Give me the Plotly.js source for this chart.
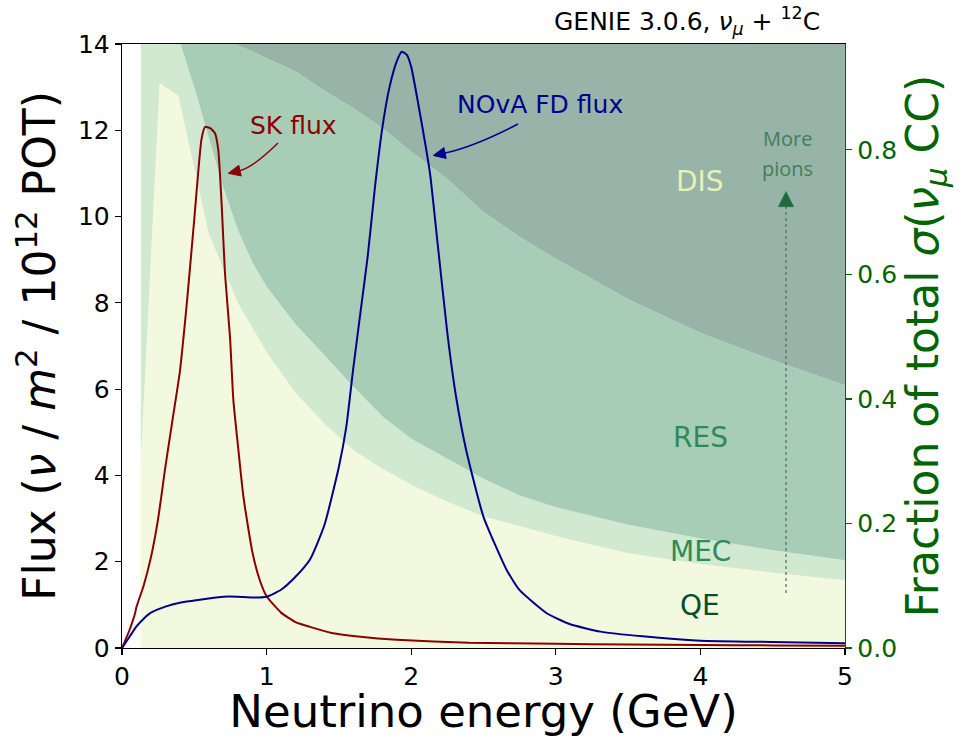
<!DOCTYPE html>
<html><head><meta charset="utf-8">
<script src="https://cdn.plot.ly/plotly-3.0.1.min.js"></script>
<style>body{margin:0;background:#fff}#chart{width:962px;height:738px}</style>
</head><body><div id="chart"></div>
<script>
// ---- data ----
const energyGrid = [0.13,0.26,0.39,0.5,0.6,0.7,0.8,0.9,1.0,1.2,1.4,1.6,1.8,2.0,2.25,2.5,2.75,3.0,3.5,4.0,4.5,5.0];
const fracQE  = [0.30,0.907,0.887,0.77,0.665,0.61,0.555,0.515,0.475,0.41,0.36,0.318,0.288,0.262,0.235,0.211,0.196,0.18,0.152,0.135,0.121,0.109];
const fracMEC = [0.70,0.093,0.093,0.13,0.155,0.13,0.117,0.105,0.105,0.11,0.11,0.102,0.084,0.074,0.069,0.061,0.049,0.046,0.046,0.041,0.036,0.032];
const fracRES = [0,0,0.02,0.10,0.175,0.245,0.296,0.338,0.367,0.406,0.425,0.447,0.463,0.461,0.449,0.428,0.415,0.399,0.362,0.33,0.305,0.281];
const fracDIS = [0,0,0,0,0.005,0.015,0.032,0.042,0.053,0.074,0.105,0.133,0.165,0.203,0.247,0.30,0.34,0.375,0.44,0.494,0.538,0.578];

const skEnergy = [0,0.05,0.09,0.1,0.15,0.2,0.25,0.3,0.35,0.4,0.45,0.5,0.55,0.575,0.61,0.643,0.666,0.69,0.712,0.747,0.77,0.8,0.84,0.9,0.95,1.0,1.1,1.2,1.3,1.45,1.65,1.9,2.4,3.0,3.5,4.0,4.5,5.0];
const skFlux   = [0,0.4,0.8,0.95,1.45,2.1,3.0,4.2,5.3,6.4,8.05,9.95,11.8,12.08,12.05,11.93,11.54,10.23,8.69,7.2,5.75,4.75,3.5,2.25,1.6,1.2,0.82,0.6,0.49,0.35,0.26,0.19,0.12,0.1,0.08,0.07,0.06,0.05];

const novaEnergy = [0,0.05,0.1,0.15,0.2,0.3,0.4,0.5,0.6,0.7,0.8,0.9,1.0,1.1,1.2,1.3,1.4,1.5,1.55,1.6,1.65,1.7,1.75,1.8,1.85,1.9,1.935,1.97,2.0,2.06,2.13,2.18,2.25,2.31,2.38,2.5,2.66,2.75,2.94,3.1,3.31,3.6,4.0,4.5,5.0];
const novaFlux   = [0,0.25,0.5,0.68,0.82,0.96,1.05,1.1,1.15,1.19,1.19,1.17,1.19,1.35,1.65,2.05,2.85,4.2,5.1,6.5,7.8,9.1,10.7,12.05,13.0,13.6,13.82,13.75,13.47,12.4,11.0,9.46,7.3,5.83,4.59,3.04,1.81,1.34,0.80,0.55,0.38,0.27,0.17,0.14,0.11];

const xTicks = [0,1,2,3,4,5];
const fluxTicks = [0,2,4,6,8,10,12,14];
const fracTicks = [0,0.2,0.4,0.6,0.8];

// ---- layout geometry helpers (pixel -> data, for decorations) ----
const W=962,H=738, L=122, R=117, T=44, B=90;
const X0=0, X1=5, F1=14, FR1=0.97;
const pw=W-L-R, ph=H-T-B;
const px2x = p => X0 + (p-L)/pw*(X1-X0);
const py2f = p => (H-B-p)/ph*F1;

const DJ = 'DejaVu Sans, Liberation Sans, sans-serif';
const green = '#006400';

const areaCols = {QE:'#f3f9de', MEC:'#d0e9d0', RES:'#a8cdb6', DIS:'#98b4a8'};
function area(name, vals){
  return {x:energyGrid, y:vals, name:name, type:'scatter', mode:'none', stackgroup:'frac',
          fillcolor:areaCols[name], line:{width:0}, yaxis:'y', hoverinfo:'skip'};
}
const traces = [
  area('QE',fracQE), area('MEC',fracMEC), area('RES',fracRES), area('DIS',fracDIS),
  {x:skEnergy, y:skFlux, type:'scatter', mode:'lines', name:'SK flux', yaxis:'y2',
   line:{color:'#8b0000', width:2, shape:'spline', smoothing:0.5}},
  {x:novaEnergy, y:novaFlux, type:'scatter', mode:'lines', name:'NOvA FD flux', yaxis:'y2',
   line:{color:'#00008b', width:2, shape:'spline', smoothing:0.5}}
];

// curved arrow helper: tail, control, tip in px
function curvedArrow(t, c, h, color){
  const dx=h[0]-c[0], dy=h[1]-c[1], n=Math.hypot(dx,dy), ux=dx/n, uy=dy/n;
  const len=12, hw=5.5;
  const bc=[h[0]-len*ux, h[1]-len*uy];
  const p1=[bc[0]-hw*uy, bc[1]+hw*ux], p2=[bc[0]+hw*uy, bc[1]-hw*ux];
  const P = p => px2x(p[0])+','+py2f(p[1]);
  return [
    {type:'path', xref:'x', yref:'y2', path:'M '+P(t)+' Q '+P(c)+' '+P(bc),
     line:{color:color,width:1.5}},
    {type:'path', xref:'x', yref:'y2', path:'M '+P(h)+' L '+P(p1)+' L '+P(p2)+' Z',
     fillcolor:color, line:{color:color,width:1}}
  ];
}
const shapes = [
  ...curvedArrow([278,143],[252.7,167.7],[228.3,173.3],'#8b0000'),
  ...curvedArrow([518,124],[474.2,146.8],[433.3,155.5],'#00008b'),
  {type:'line', xref:'x', yref:'y2', x0:px2x(786), x1:px2x(786), y0:py2f(593), y1:py2f(207),
   line:{color:'#4f6f60', width:1.2, dash:'dot'}},
  {type:'path', xref:'x', yref:'y2',
   path:'M '+px2x(786)+','+py2f(191.5)+' L '+px2x(778.3)+','+py2f(206.7)+' L '+px2x(793.7)+','+py2f(206.7)+' Z',
   fillcolor:'#1f6b3c', line:{color:'#1f6b3c', width:0.5}}
];

function lab(text, cx, cy, color, size, family){
  return {text:text, x:px2x(cx), y:py2f(cy), xref:'x', yref:'y2', showarrow:false,
          font:{family:family||DJ, size:size, color:color}, xanchor:'center', yanchor:'middle'};
}
const annotations = [
  lab('DIS',700,181,'#e6f2b0',28),
  lab('RES',700,437,'#2e8b57',28),
  lab('MEC',700,551,'#2e8b57',28),
  lab('QE',700,605,'#00502a',28),
  lab('SK flux',293,125,'#8b0000',25),
  lab('NOvA FD flux',540,104,'#00008b',25),
  lab('More',787,138,'#3f7f58',20,'Open Sans, Noto Sans, sans-serif'),
  lab('pions',787,168,'#3f7f58',20,'Open Sans, Noto Sans, sans-serif'),
  {text:'GENIE 3.0.6, <i>ν</i><sub><i>μ</i></sub> + <sup>12</sup>C', xref:'paper', yref:'paper',
   x:(822-L)/pw, y:(H-B-21)/ph, xanchor:'right', yanchor:'middle', showarrow:false,
   font:{family:DJ, size:25, color:'#000'}}
];

const layout = {
  width:W, height:H, margin:{l:L, r:R, t:T, b:B, pad:0},
  paper_bgcolor:'#fff', plot_bgcolor:'#fff', showlegend:false,
  font:{family:DJ, color:'#000'},
  xaxis:{range:[X0,X1], tickvals:xTicks, ticktext:xTicks.map(String), ticks:'outside', ticklen:6, tickwidth:1.2,
         tickcolor:'#000', showgrid:false, zeroline:false, showline:true, mirror:true, linecolor:'#000', linewidth:1.3,
         tickfont:{size:25, family:DJ, color:'#000'},
         title:{text:'Neutrino energy (GeV)', font:{size:45, family:DJ, color:'#000'}, standoff:4}, automargin:false},
  yaxis:{range:[0,FR1], side:'right', tickvals:fracTicks, tickformat:'.1f', ticks:'outside', ticklen:6, tickwidth:1.2,
         tickcolor:green, showgrid:false, zeroline:false, showline:true, linecolor:green, linewidth:1.3,
         tickfont:{size:25, family:DJ, color:green},
         title:{text:'Fraction of total <i>σ</i>(<i>ν</i><sub><i>μ</i></sub> CC)', font:{size:44, family:DJ, color:green}, standoff:8},
         automargin:false},
  yaxis2:{range:[0,F1], overlaying:'y', side:'left', tickvals:fluxTicks, ticks:'outside', ticklen:6, tickwidth:1.2,
          tickcolor:'#000', showgrid:false, zeroline:false, showline:true, linecolor:'#000', linewidth:1.3,
          tickfont:{size:25, family:DJ, color:'#000'},
          title:{text:'Flux (<i>ν</i> / <i>m</i><sup>2</sup> / 10<sup>12</sup> POT)', font:{size:44, family:DJ, color:'#000'}, standoff:8},
          automargin:false},
  shapes:shapes, annotations:annotations
};
Plotly.newPlot('chart', traces, layout, {displayModeBar:false, staticPlot:true});
</script></body></html>
